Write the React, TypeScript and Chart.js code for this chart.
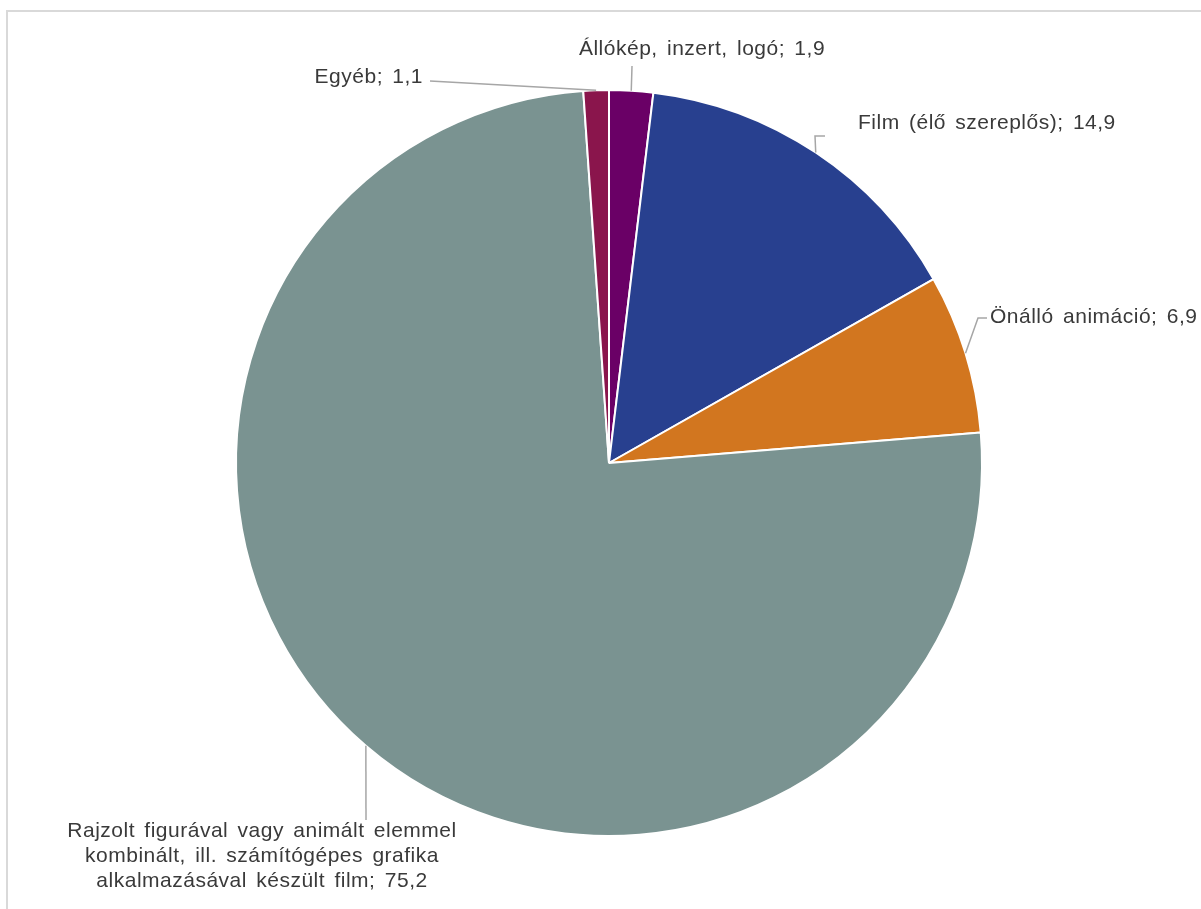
import React, { useEffect, useRef } from "react";
import { Chart, registerables } from "chart.js";

Chart.register(...registerables);

// ---- data ----
const categories: string[][] = [
  ["Állókép, inzert, logó"],
  ["Film (élő szereplős)"],
  ["Önálló animáció"],
  [
    "Rajzolt figurával vagy animált elemmel",
    "kombinált, ill. számítógépes grafika",
    "alkalmazásával készült film",
  ],
  ["Egyéb"],
];
const values: number[] = [1.9, 14.9, 6.9, 75.2, 1.1];
const colors: string[] = ["#6A0066", "#28408F", "#D2761F", "#7A9391", "#8A154C"];

// ---- label layout (positions only) ----
type Layout = { x: number; y: number; align: CanvasTextAlign; leader: number[][] };
const labelLayout: Layout[] = [
  { x: 702, y: 55, align: "center", leader: [[632, 66]] },
  { x: 858, y: 129, align: "left", leader: [[815, 136], [825, 136]] },
  { x: 990, y: 323, align: "left", leader: [[978, 318], [987, 318]] },
  { x: 262, y: 837, align: "center", leader: [[366, 820]] },
  { x: 423, y: 83, align: "right", leader: [[430, 81]] },
];

const fmt = (v: number) => v.toFixed(1).replace(".", ",");

const labelPlugin = {
  id: "pieLabels",
  afterDraw(chart: any) {
    const ctx: CanvasRenderingContext2D = chart.ctx;
    const meta = chart.getDatasetMeta(0);
    ctx.save();
    // frame
    ctx.strokeStyle = "#D9D9D9";
    ctx.lineWidth = 2;
    ctx.beginPath();
    ctx.moveTo(7, 909);
    ctx.lineTo(7, 11);
    ctx.lineTo(1201, 11);
    ctx.stroke();

    meta.data.forEach((arc: any, i: number) => {
      const p = arc.getProps(["x", "y", "startAngle", "endAngle", "outerRadius"], true);
      const mid = (p.startAngle + p.endAngle) / 2;
      const sx = p.x + Math.cos(mid) * p.outerRadius;
      const sy = p.y + Math.sin(mid) * p.outerRadius;
      const lay = labelLayout[i];
      ctx.strokeStyle = "#A6A6A6";
      ctx.lineWidth = 1.5;
      ctx.beginPath();
      ctx.moveTo(sx, sy);
      lay.leader.forEach((pt) => ctx.lineTo(pt[0], pt[1]));
      ctx.stroke();

      const lines = categories[i].slice();
      lines[lines.length - 1] = lines[lines.length - 1] + "; " + fmt(values[i]);
      ctx.fillStyle = "#3A3A3A";
      ctx.font = '21px "Liberation Sans", Arial, sans-serif';
      (ctx as any).letterSpacing = "0.5px";
      (ctx as any).wordSpacing = "3px";
      ctx.textAlign = lay.align;
      ctx.textBaseline = "alphabetic";
      lines.forEach((ln, k) => {
        ctx.fillText(ln, lay.x, lay.y + k * 25);
      });
    });
    ctx.restore();
  },
};

export default function App() {
  const ref = useRef<HTMLCanvasElement | null>(null);
  useEffect(() => {
    if (!ref.current) return;
    const chart = new Chart(ref.current, {
      type: "pie",
      data: {
        labels: categories.map((c) => c.join(" ")),
        datasets: [
          {
            data: values,
            backgroundColor: colors,
            borderColor: "#FFFFFF",
            borderWidth: 2,
            hoverOffset: 0,
            radius: 373,
          } as any,
        ],
      },
      options: {
        animation: false,
        responsive: false,
        maintainAspectRatio: false,
        layout: { padding: { left: 17, right: 0, top: 17, bottom: 0 } },
        plugins: { legend: { display: false }, tooltip: { enabled: false } },
      },
      plugins: [labelPlugin],
    });
    return () => chart.destroy();
  }, []);
  return (
    <div style={{ position: "absolute", left: 0, top: 0, width: 1201, height: 909, background: "#fff" }}>
      <canvas ref={ref} width={1201} height={909} style={{ width: 1201, height: 909, display: "block" }} />
    </div>
  );
}
